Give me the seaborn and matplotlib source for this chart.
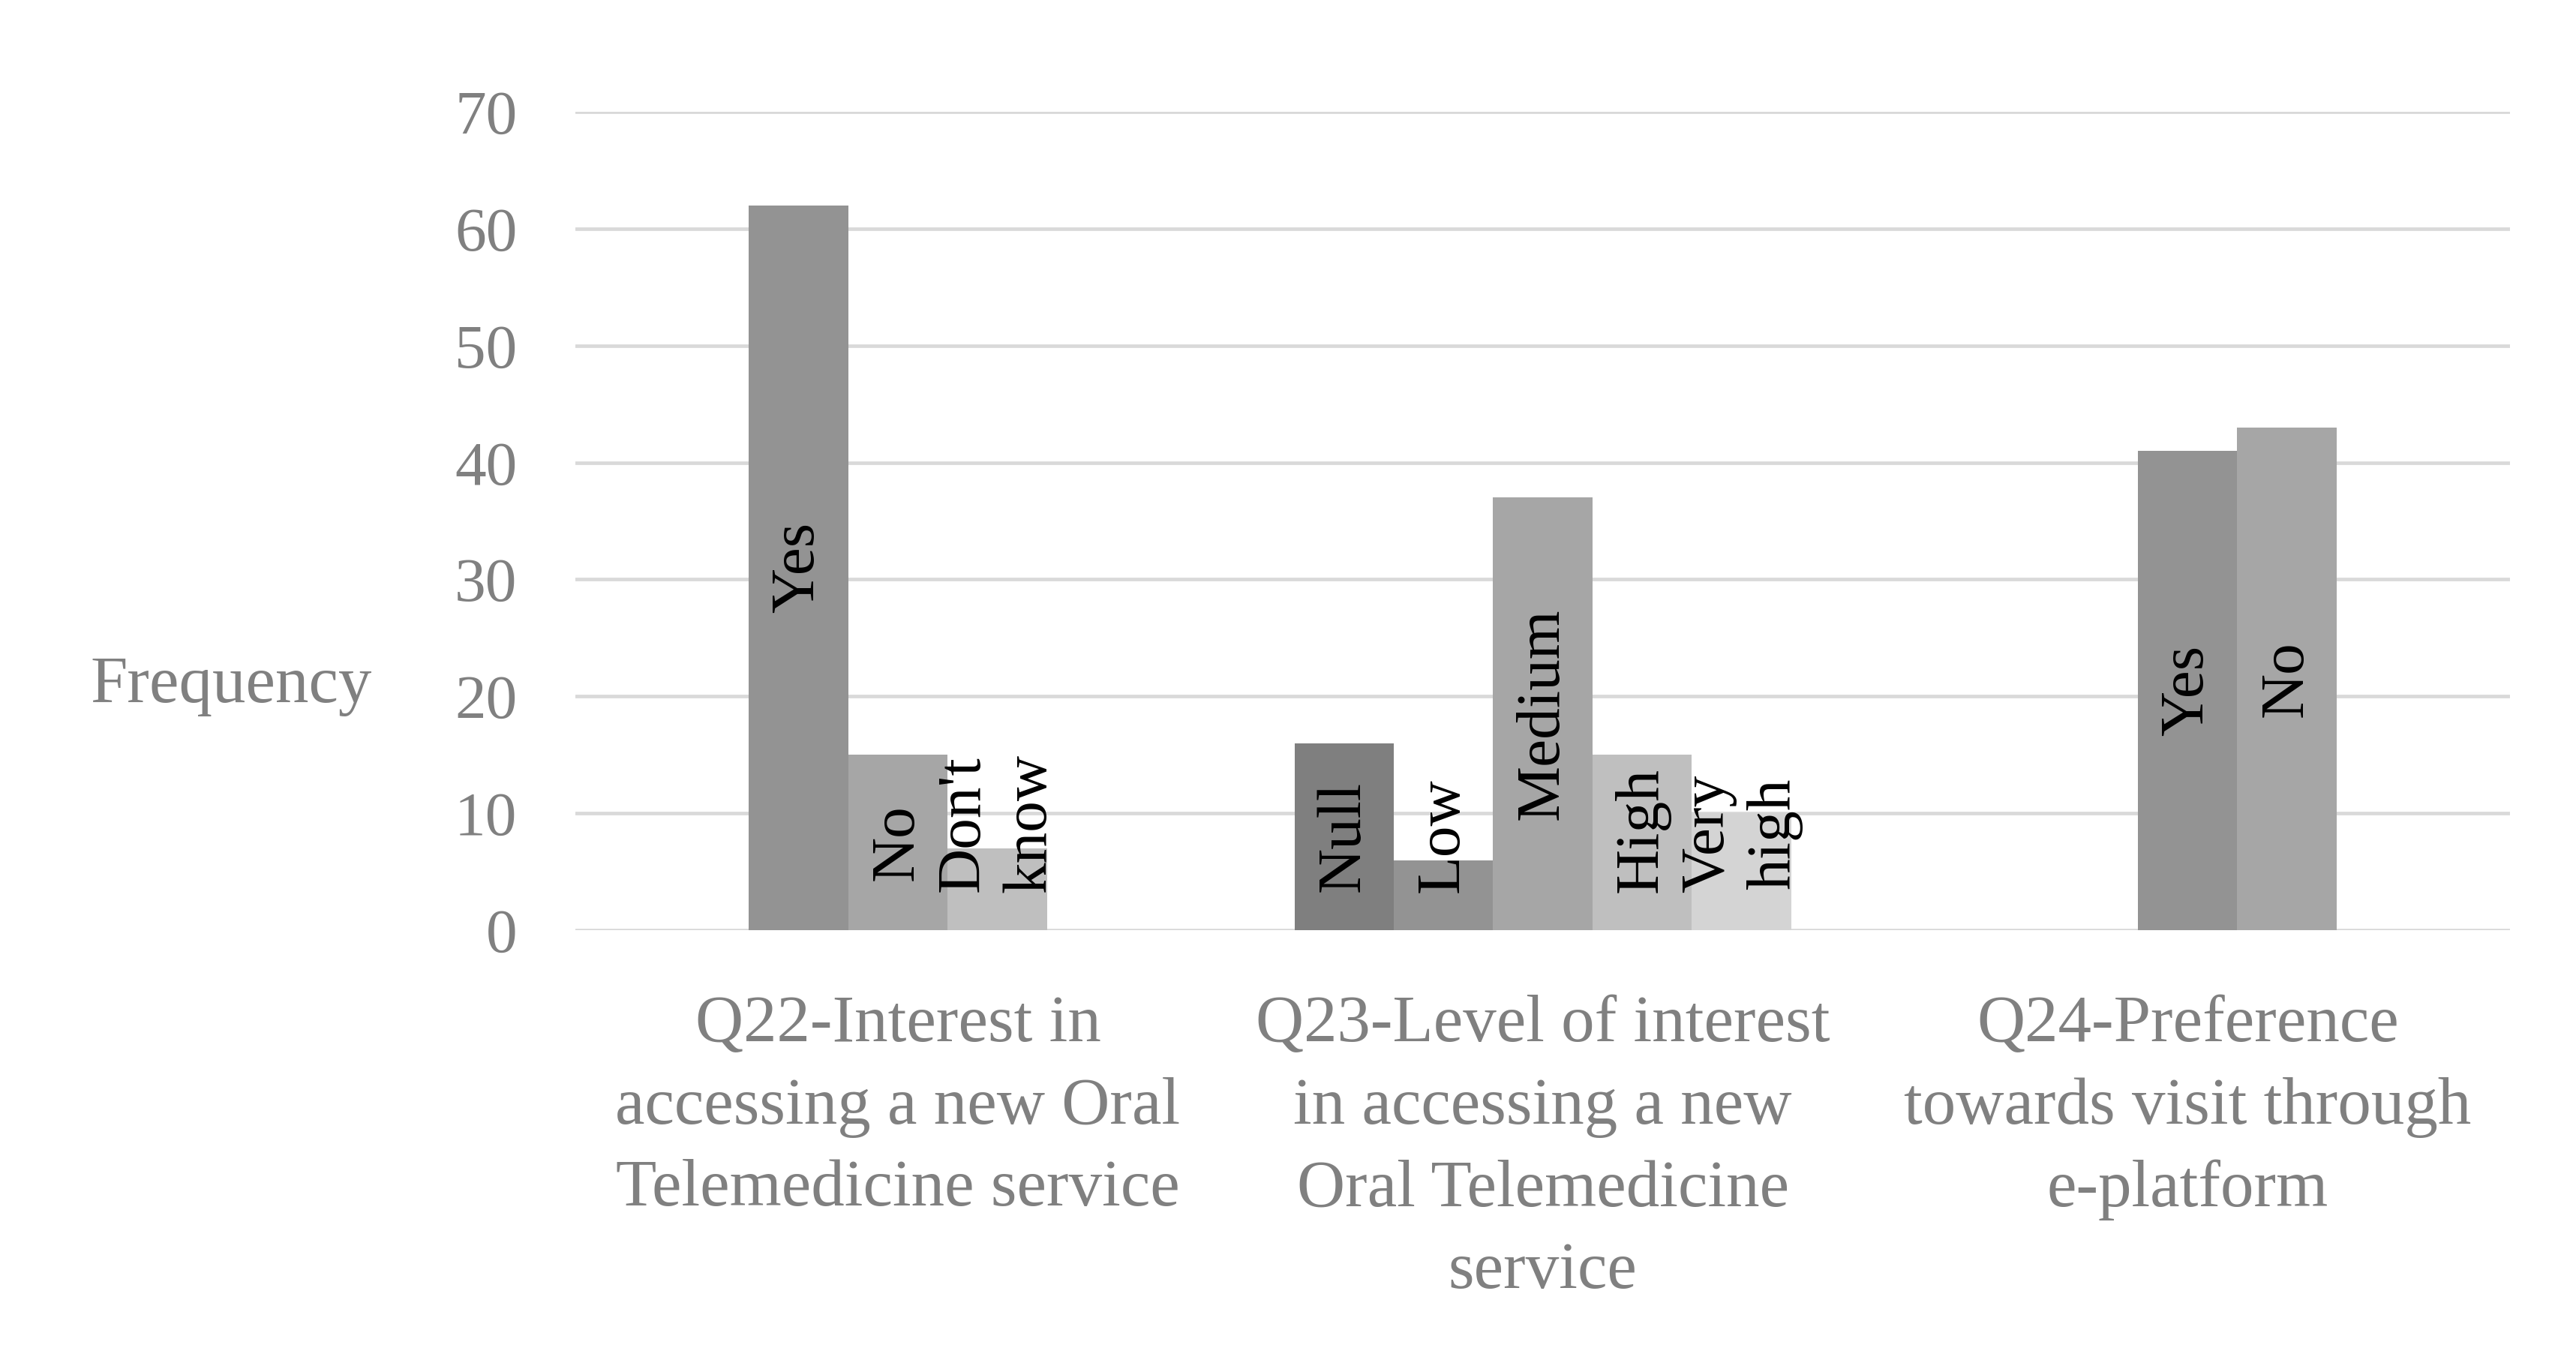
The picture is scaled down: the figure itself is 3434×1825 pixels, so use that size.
import matplotlib
matplotlib.use("Agg")
import matplotlib.pyplot as plt
import pandas as pd
import seaborn as sns

# category axis labels (one per question)
questions = ["Q22", "Q23", "Q24"]
question_labels = [
    "Q22-Interest in\naccessing a new Oral\nTelemedicine service",
    "Q23-Level of interest\nin accessing a new\nOral Telemedicine\nservice",
    "Q24-Preference\ntowards visit through\ne-platform",
]

# one entry per bar
bar_question = ["Q22", "Q22", "Q22", "Q23", "Q23", "Q23", "Q23", "Q23", "Q24", "Q24"]
bar_answer = ["Yes", "No", "Don't\nknow", "Null", "Low", "Medium", "High", "Very\nhigh", "Yes", "No"]
bar_series = ["S2", "S3", "S4", "S1", "S2", "S3", "S4", "S5", "S3", "S4"]
frequency = [62, 15, 7, 16, 6, 37, 15, 10, 41, 43]

series_order = ["S1", "S2", "S3", "S4", "S5"]
answer_shade = {
    "Null": "#7f7f7f",
    "Yes": "#939393", "Low": "#939393",
    "No": "#a6a6a6", "Medium": "#a6a6a6",
    "Don't\nknow": "#bfbfbf", "High": "#bfbfbf",
    "Very\nhigh": "#d4d4d4",
}

df = pd.DataFrame({
    "question": bar_question,
    "answer": bar_answer,
    "series": bar_series,
    "frequency": frequency,
})

sns.set_theme(style="white")
plt.rcParams["font.family"] = ["Liberation Serif", "DejaVu Serif"]

FS = 60
GREY = "#808080"

fig = plt.figure(figsize=(34.34, 18.25), dpi=100)
ax = fig.add_axes([0.2234, 0.3205, 0.7510, 0.5979])

sns.barplot(
    data=df, x="question", y="frequency", hue="series",
    order=questions, hue_order=series_order,
    palette=["#7f7f7f", "#939393", "#a6a6a6", "#bfbfbf", "#d4d4d4"],
    width=0.77, gap=0, saturation=1, legend=False, ax=ax, linewidth=0,
)

ax.set_ylim(0, 70)
ax.set_xlim(-0.5, 2.5)
ax.set_yticks(range(0, 71, 10))
ax.yaxis.grid(True, color="#d9d9d9", linewidth=3.4)
ax.set_axisbelow(True)
for s in ax.spines.values():
    s.set_visible(False)

ax.set_xticks(range(len(questions)))
ax.set_xticklabels(question_labels, fontsize=64, color=GREY, linespacing=1.46)
ax.tick_params(axis="x", length=0, pad=62)
ax.tick_params(axis="y", length=0, pad=56, labelsize=FS, labelcolor=GREY)
ax.set_xlabel("")
ax.set_ylabel("Frequency", rotation=0, fontsize=64, color=GREY, ha="center", va="center")
ax.yaxis.set_label_coords(-0.178, 0.298)

# recolour each bar by its answer and write the answer inside it
lookup = {(q, s): (a, v) for q, s, a, v in zip(bar_question, bar_series, bar_answer, frequency)}
fig.canvas.draw()
renderer = fig.canvas.get_renderer()
min_bottom = 3.2
for container, lvl in zip(ax.containers, series_order):
    for bar in container:
        h = bar.get_height()
        if not h == h or h == 0:
            continue
        xc = bar.get_x() + bar.get_width() / 2
        q = questions[int(round(xc))]
        answer, _ = lookup[(q, lvl)]
        bar.set_facecolor(answer_shade[answer])
        t = ax.text(xc, h / 2, answer, rotation=90, ha="center", va="center",
                    fontsize=FS, color="black", linespacing=1.22)
        bb = t.get_window_extent(renderer).transformed(ax.transData.inverted())
        if bb.y0 < min_bottom:
            t.set_va("bottom")
            t.set_y(min_bottom)

fig.savefig("out.png", dpi=100)
